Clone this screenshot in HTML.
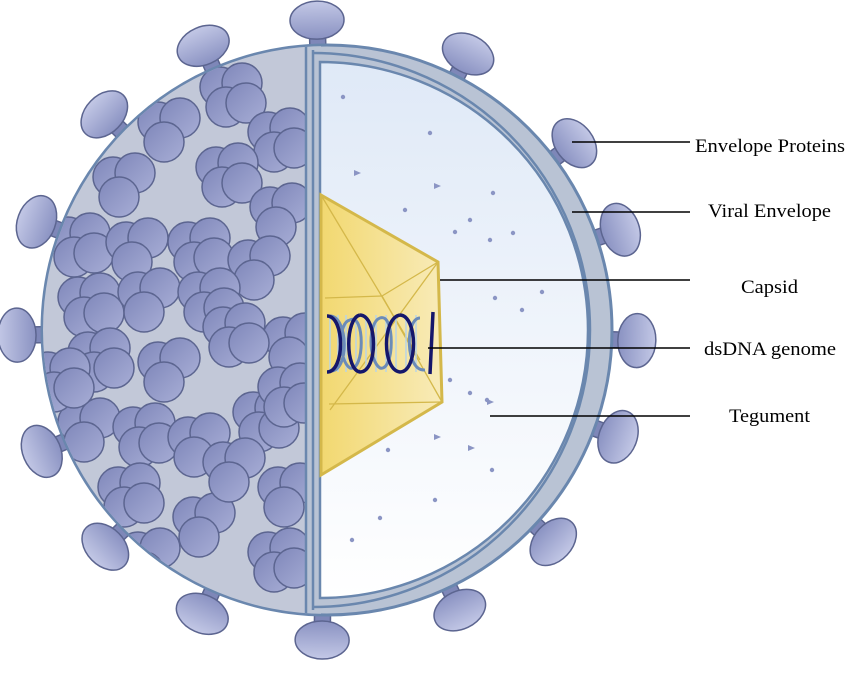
<!DOCTYPE html>
<html><head><meta charset="utf-8"><style>
html,body{margin:0;padding:0;background:#fff;width:850px;height:675px;overflow:hidden}
text{font-family:"Liberation Serif",serif;font-size:19px;fill:#000}
</style></head><body>
<svg id="s" width="850" height="675" viewBox="0 0 850 675" xmlns="http://www.w3.org/2000/svg">
<defs>
<linearGradient id="blob" x1="0" y1="0" x2="1" y2="1">
<stop offset="0" stop-color="#7f87ba"/><stop offset="1" stop-color="#a8aed6"/></linearGradient>
<linearGradient id="head" x1="0" y1="0" x2="1" y2="0">
<stop offset="0" stop-color="#8a92c2"/><stop offset="1" stop-color="#c3c8e6"/></linearGradient>
<linearGradient id="inner" x1="0" y1="0" x2="0" y2="1">
<stop offset="0" stop-color="#dfe9f7"/><stop offset="1" stop-color="#ffffff"/></linearGradient>
<linearGradient id="cap" x1="0" y1="0" x2="1" y2="0">
<stop offset="0" stop-color="#f2d870"/><stop offset="1" stop-color="#f8ebb8"/></linearGradient>
<clipPath id="circ"><circle cx="327" cy="330" r="284"/></clipPath>
</defs>
<g id="spikes"></g>
<circle cx="327" cy="330" r="285" fill="#b9c3d4" stroke="#6a87ae" stroke-width="3"/>
<g clip-path="url(#circ)">
<rect x="0" y="0" width="306" height="675" fill="#c2c8d8"/>
<g id="blobs"></g>
<rect x="305" y="40" width="16" height="600" fill="#b9c3d4"/>
<line x1="306" y1="40" x2="306" y2="620" stroke="#6a87ae" stroke-width="2.5"/>
<line x1="313" y1="50" x2="313" y2="610" stroke="#6a87ae" stroke-width="2.5"/>
</g>
<path d="M320 62 A268 268 0 0 1 320 598 Z" fill="url(#inner)" stroke="#6a87ae" stroke-width="2.5"/>
<path d="M313 53 A277 277 0 0 1 313 607" fill="none" stroke="#6a87ae" stroke-width="2.5"/>
<g id="dots" fill="#8b95c4"></g>
<polygon points="321,195 438,262 442,402 321,475" fill="url(#cap)" stroke="#d4b84a" stroke-width="3"/>
<g stroke="#d4b84a" stroke-width="1.3" fill="none">
<line x1="321" y1="195" x2="420" y2="360"/><line x1="438" y1="262" x2="330" y2="410"/>
<line x1="325" y1="298" x2="382" y2="296"/><line x1="382" y1="296" x2="438" y2="262"/>
<line x1="329" y1="404" x2="442" y2="402"/><line x1="382" y1="296" x2="442" y2="402"/>
</g>
<g stroke="#b8d4e6" stroke-width="1.5">
<line x1="330" y1="318" x2="330" y2="372"/><line x1="338" y1="315" x2="338" y2="372"/><line x1="346" y1="315" x2="346" y2="372"/><line x1="356" y1="315" x2="356" y2="372"/><line x1="366" y1="315" x2="366" y2="372"/><line x1="376" y1="315" x2="376" y2="372"/><line x1="386" y1="315" x2="386" y2="372"/><line x1="396" y1="315" x2="396" y2="372"/><line x1="406" y1="315" x2="406" y2="372"/><line x1="416" y1="315" x2="416" y2="372"/>
</g>
<path d="M330 316 C348 316 350 372 330 371 M350 320 C365 312 365 372 350 368 C338 360 338 322 350 320 M380 318 C395 312 395 372 380 368 C368 360 368 322 380 318 M420 318 C405 318 405 372 425 370" fill="none" stroke="#6b8bb8" stroke-width="3"/>
<path d="M327 316 C345 316 345 372 327 372 M360 315 C345 318 345 370 360 372 C378 372 378 316 360 315 M400 315 C382 318 382 370 400 372 C418 372 418 316 400 315 M433 312 L430 374" fill="none" stroke="#15176b" stroke-width="3.5"/>
<g stroke="#000" stroke-width="1.5">
<line x1="572" y1="142" x2="690" y2="142"/><line x1="572" y1="212" x2="690" y2="212"/>
<line x1="440" y1="280" x2="690" y2="280"/><line x1="428" y1="348" x2="690" y2="348"/>
<line x1="490" y1="416" x2="690" y2="416"/>
</g>
<text x="695" y="152" textLength="150" lengthAdjust="spacingAndGlyphs">Envelope Proteins</text>
<text x="708" y="217" textLength="123" lengthAdjust="spacingAndGlyphs">Viral Envelope</text>
<text x="741" y="293" textLength="57" lengthAdjust="spacingAndGlyphs">Capsid</text>
<text x="704" y="355" textLength="132" lengthAdjust="spacingAndGlyphs">dsDNA genome</text>
<text x="729" y="422" textLength="81" lengthAdjust="spacingAndGlyphs">Tegument</text>
</svg>
<script>
var NS="http://www.w3.org/2000/svg";
function el(t,a,p){var e=document.createElementNS(NS,t);for(var k in a)e.setAttribute(k,a[k]);p.appendChild(e);return e;}
var cx=327,cy=330;
var heads=[[317,20],[205,50],[465,60],[105,115],[568,148],[45,225],[605,235],[25,335],[620,340],[45,450],[605,432],[107,545],[532,522],[207,603],[455,600],[322,648]];
var sp=document.getElementById('spikes');
heads.forEach(function(h){
 var a=Math.atan2(h[1]-cy,h[0]-cx)*180/Math.PI;
 var g=el('g',{transform:'translate('+cx+','+cy+') rotate('+a+')'},sp);
 el('rect',{x:276,y:-8,width:22,height:16,rx:3,fill:'#7e87b8',stroke:'#5c6590','stroke-width':1.5},g);
 el('ellipse',{cx:310,cy:0,rx:19,ry:27,fill:'url(#head)',stroke:'#5c6590','stroke-width':1.5},g);
});
var bl=document.getElementById('blobs');
var cl=[[232,95],[170,130],[280,140],[125,185],[228,175],[282,215],[80,245],[138,250],[200,250],[260,268],[90,305],[150,300],[210,300],[295,345],[235,335],[170,370],[100,360],[90,430],[145,435],[200,445],[265,420],[290,495],[130,495],[205,525],[280,560],[235,470],[60,380],[150,560],[290,395]];
cl.forEach(function(c,i){
 var o=[[-12,-8],[10,-12],[-6,12],[14,8]];
 for(var j=0;j<(i%2?3:4);j++)el('circle',{cx:c[0]+o[j][0],cy:c[1]+o[j][1],r:20,fill:'url(#blob)',stroke:'#5c6590','stroke-width':1.5},bl);
});
var d=document.getElementById('dots');
[[343,97],[430,133],[405,210],[493,193],[470,220],[513,233],[490,240],[455,232],[495,298],[542,292],[522,310],[470,393],[450,380],[487,400],[388,450],[435,500],[492,470],[380,518],[352,540]].forEach(function(p){el('circle',{cx:p[0],cy:p[1],r:2.2},d);});
[[357,173],[437,186],[437,437],[490,402],[471,448]].forEach(function(p){el('polygon',{points:(p[0]-3)+','+(p[1]-3)+' '+(p[0]+4)+','+p[1]+' '+(p[0]-3)+','+(p[1]+3)},d);});
</script>
</body></html>
